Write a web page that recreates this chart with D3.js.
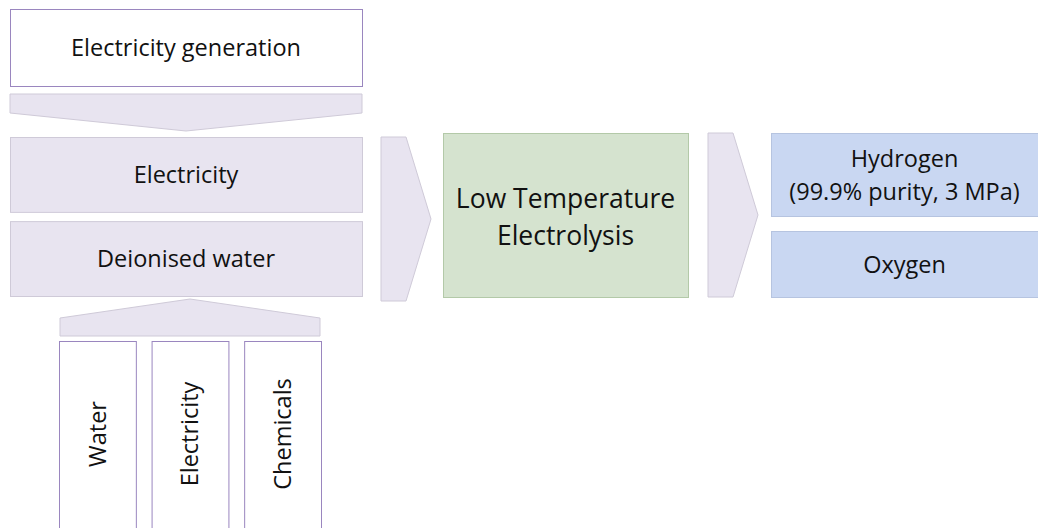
<!DOCTYPE html>
<html>
<head>
<meta charset="utf-8">
<script src="https://cdn.jsdelivr.net/npm/d3@7"></script>
<style>
  body { margin: 0; background: #fff; }
  svg { display: block; }
</style>
</head>
<body>
<div id="flow"></div>
<script>
// labels of the diagram
var sourceLabel = 'Electricity generation'
var inputLabels = ['Electricity', 'Deionised water']
var subInputLabels = ['Water', 'Electricity', 'Chemicals']
var processLabel = ['Low Temperature', 'Electrolysis']
var outputLabels = [['Hydrogen', '(99.9% purity, 3 MPa)'], ['Oxygen']]

var width = 1038
var height = 528
var FONT = '"Open Sans", sans-serif'
var FS = 23.5
var COLOR = {
  PURPLE_LINE: '#9a86bf',
  LAVENDER: '#e8e4f0',
  LAVENDER_LINE: '#cfcad8',
  GREEN: '#d5e3cf',
  GREEN_LINE: '#b3c9a8',
  BLUE: '#c9d7f2',
  BLUE_LINE: '#b6c4e0',
  TEXT: '#111'
}

var svg = d3.select('#flow')
  .append('svg')
  .attr('width', width)
  .attr('height', height)

function box(x, y, w, h, fill, stroke) {
  return svg.append('rect')
    .attr('x', x + 0.5).attr('y', y + 0.5)
    .attr('width', w).attr('height', h)
    .attr('fill', fill)
    .attr('stroke', stroke)
    .attr('stroke-width', 1)
}

function label(lines, cx, cy, size, lh) {
  var t = svg.append('text')
    .attr('text-anchor', 'middle')
    .attr('font-family', FONT)
    .attr('font-size', size)
    .attr('fill', COLOR.TEXT)
  var top = cy - (lines.length - 1) * lh / 2
  lines.forEach(function (s, i) {
    t.append('tspan')
      .attr('x', cx)
      .attr('y', top + i * lh)
      .attr('dy', '0.38em')
      .text(s)
  })
  return t
}

function poly(pts, fill, stroke) {
  svg.append('path')
    .attr('d', d3.line()(pts) + 'Z')
    .attr('fill', fill)
    .attr('stroke', stroke)
    .attr('stroke-width', 1)
}

// left column
var colX = 10, colW = 352
box(colX, 9, colW, 77, '#fff', COLOR.PURPLE_LINE)
label([sourceLabel], colX + colW / 2, 47, FS, 24)

// down chevron
poly([[colX, 94], [colX + colW, 94], [colX + colW, 113], [colX + colW / 2, 131], [colX, 113]],
  COLOR.LAVENDER, COLOR.LAVENDER_LINE)

var inY = d3.scaleBand().domain(inputLabels).range([137, 296]).paddingInner(0.11)
inputLabels.forEach(function (d) {
  box(colX, inY(d), colW, inY.bandwidth(), COLOR.LAVENDER, COLOR.LAVENDER_LINE)
  label([d], colX + colW / 2, inY(d) + inY.bandwidth() / 2, FS, 24)
})

// up chevron
poly([[60, 336], [60, 318], [190, 299], [320, 318], [320, 336]],
  COLOR.LAVENDER, COLOR.LAVENDER_LINE)

var subX = d3.scaleBand().domain(subInputLabels).range([59, 321]).paddingInner(0.17)
subInputLabels.forEach(function (d) {
  box(subX(d), 341, subX.bandwidth(), 200, '#fff', COLOR.PURPLE_LINE)
  var cx = subX(d) + subX.bandwidth() / 2
  svg.append('text')
    .attr('transform', 'translate(' + cx + ',434) rotate(-90)')
    .attr('text-anchor', 'middle')
    .attr('dy', '0.35em')
    .attr('font-family', FONT)
    .attr('font-size', FS)
    .attr('fill', COLOR.TEXT)
    .text(d)
})

// arrow to process
poly([[381, 137], [406, 137], [431, 219], [406, 301], [381, 301]],
  COLOR.LAVENDER, COLOR.LAVENDER_LINE)

// process
box(443, 133, 245, 164, COLOR.GREEN, COLOR.GREEN_LINE)
label(processLabel, 443 + 245 / 2, 216, 26.5, 37)

// arrow to outputs
poly([[708, 133], [733, 133], [758, 215], [733, 297], [708, 297]],
  COLOR.LAVENDER, COLOR.LAVENDER_LINE)

// outputs (top box taller than bottom one)
var outBoxes = [{ y: 133, h: 83 }, { y: 231, h: 66 }]
outputLabels.forEach(function (lines, i) {
  var b = outBoxes[i]
  box(771, b.y, 270, b.h, COLOR.BLUE, COLOR.BLUE_LINE)
  label(lines, 771 + 267 / 2, b.y + b.h / 2, FS, 33)
})
</script>
</body>
</html>
